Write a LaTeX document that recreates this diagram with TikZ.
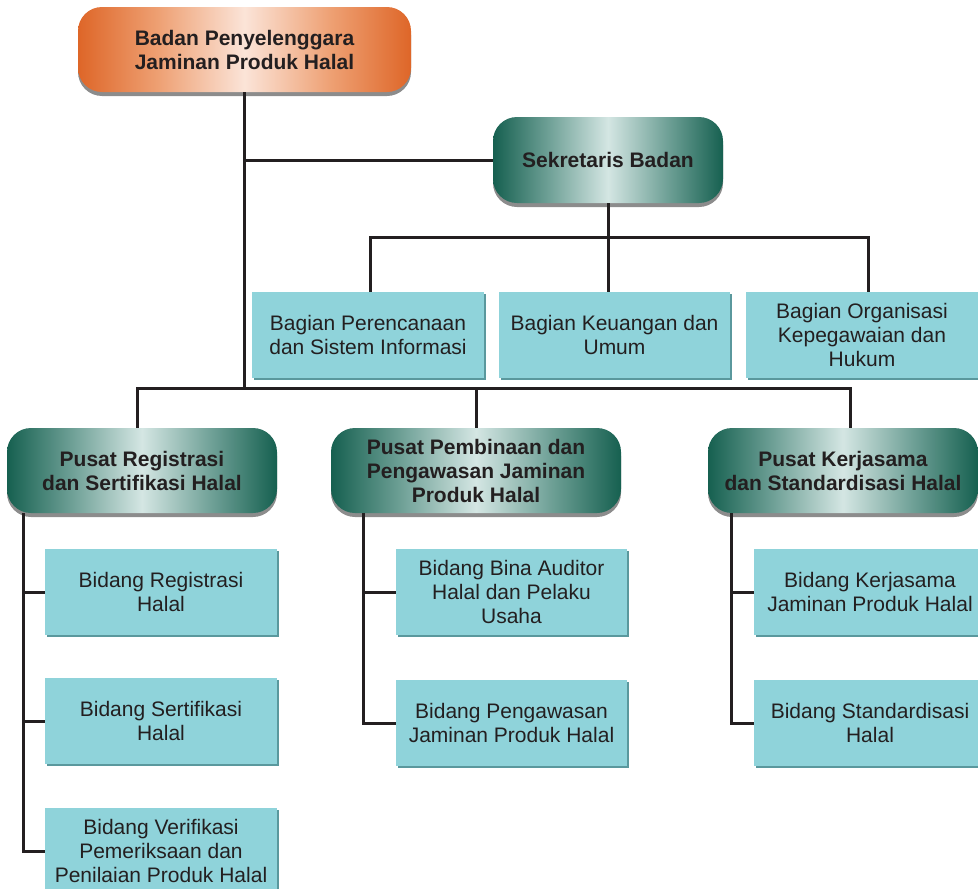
\documentclass[tikz,border=0pt]{standalone}
\usepackage{fontspec}
\setmainfont{Liberation Sans}
\usetikzlibrary{shadows}
\definecolor{ink}{HTML}{231F20}
\definecolor{cyanbox}{HTML}{8FD3DA}
\definecolor{cyanshadow}{HTML}{5A989D}
\definecolor{or1}{RGB}{222,102,40}
\definecolor{or2}{RGB}{238,160,115}
\definecolor{or3}{RGB}{251,228,216}
\definecolor{gr1}{RGB}{22,96,80}
\definecolor{gr2}{RGB}{110,160,150}
\definecolor{gr3}{RGB}{212,230,227}
\pgfdeclarehorizontalshading{orangeshade}{100bp}{color(0bp)=(or1); color(25bp)=(or1); color(37bp)=(or2); color(50bp)=(or3); color(63bp)=(or2); color(75bp)=(or1); color(100bp)=(or1)}
\pgfdeclarehorizontalshading{greenshade}{100bp}{color(0bp)=(gr1); color(25bp)=(gr1); color(37bp)=(gr2); color(50bp)=(gr3); color(63bp)=(gr2); color(75bp)=(gr1); color(100bp)=(gr1)}
\tikzset{
  txt/.style={font=\fontsize{21}{24}\selectfont, text=ink, align=center},
  head/.style={txt, font=\bfseries\fontsize{21}{24}\selectfont, rounded corners=24pt, inner sep=0pt,
    minimum width=270pt, minimum height=85pt,
    drop shadow={shadow xshift=0pt, shadow yshift=-4pt, opacity=0.45, fill=black}},
  orangebox/.style={head, shading=orangeshade},
  greenbox/.style={head, shading=greenshade},
  leaf/.style={txt, fill=cyanbox, minimum width=232pt, minimum height=86pt, inner sep=0pt,
    drop shadow={shadow xshift=2pt, shadow yshift=-2pt, fill=cyanshadow, opacity=1}},
  link/.style={line width=3pt, draw=ink},
}
\begin{document}
\begin{tikzpicture}[x=1pt,y=-1pt]
\useasboundingbox (0,0) rectangle (978,889);
% boxes
\node[orangebox, minimum width=333pt] (bpjph) at (244.5,49.5) {Badan Penyelenggara\\Jaminan Produk Halal};
\node[greenbox, minimum width=230pt, minimum height=86pt] (sek) at (608,160) {Sekretaris Badan};
\node[leaf] (b1) at (368,335) {Bagian Perencanaan\\dan Sistem Informasi};
\node[leaf, minimum width=231pt] (b2) at (614.5,335) {Bagian Keuangan dan\\Umum};
\node[leaf] (b3) at (862,335) {Bagian Organisasi\\Kepegawaian dan\\Hukum};
\node[greenbox] (p1) at (142,470.5) {Pusat Registrasi\\dan Sertifikasi Halal};
\node[greenbox, minimum width=290pt] (p2) at (476,470.5) {Pusat Pembinaan dan\\Pengawasan Jaminan\\Produk Halal};
\node[greenbox] (p3) at (843,470.5) {Pusat Kerjasama\\dan Standardisasi Halal};
\node[leaf] (c11) at (161,592) {Bidang Registrasi\\Halal};
\node[leaf] (c12) at (161,721) {Bidang Sertifikasi\\Halal};
\node[leaf] (c13) at (161,851) {Bidang Verifikasi\\Pemeriksaan dan\\Penilaian Produk Halal};
\node[leaf, minimum width=231pt] (c21) at (511.5,592) {Bidang Bina Auditor\\Halal dan Pelaku\\Usaha};
\node[leaf, minimum width=231pt] (c22) at (511.5,723) {Bidang Pengawasan\\Jaminan Produk Halal};
\node[leaf] (c31) at (870,592) {Bidang Kerjasama\\Jaminan Produk Halal};
\node[leaf] (c32) at (870,723) {Bidang Standardisasi\\Halal};
% helper coordinates
\coordinate (bus) at (243,388);
\coordinate (h1) at (137,388);
\coordinate (h3) at (850,388);
\coordinate (s1) at (370,237);
\coordinate (s3) at (868,237);
\coordinate (v1) at (23,513);
\coordinate (v2) at (363,513);
\coordinate (v3) at (731,513);
% connectors
\draw[link] (bpjph.south) -- (bpjph.south |- bus);
\draw[link] (bpjph.south |- sek.west) -- (sek.west);
\draw[link] (sek.south) -- (sek.south |- b2.north);
\draw[link] (s1 |- b1.north) -- (s1) -- (s3) -- (s3 |- b3.north);
\draw[link] (h1 |- p1.north) -- (h1) -- (h3) -- (h3 |- p3.north);
\draw[link] (bus -| p2.north) -- (p2.north);
\draw[link] (v1 |- p1.south) -- (v1 |- c13.west) -- (c13.west);
\draw[link] (v1 |- c11.west) -- (c11.west);
\draw[link] (v1 |- c12.west) -- (c12.west);
\draw[link] (v2 |- p2.south) -- (v2 |- c22.west) -- (c22.west);
\draw[link] (v2 |- c21.west) -- (c21.west);
\draw[link] (v3 |- p3.south) -- (v3 |- c32.west) -- (c32.west);
\draw[link] (v3 |- c31.west) -- (c31.west);
\end{tikzpicture}
\end{document}
